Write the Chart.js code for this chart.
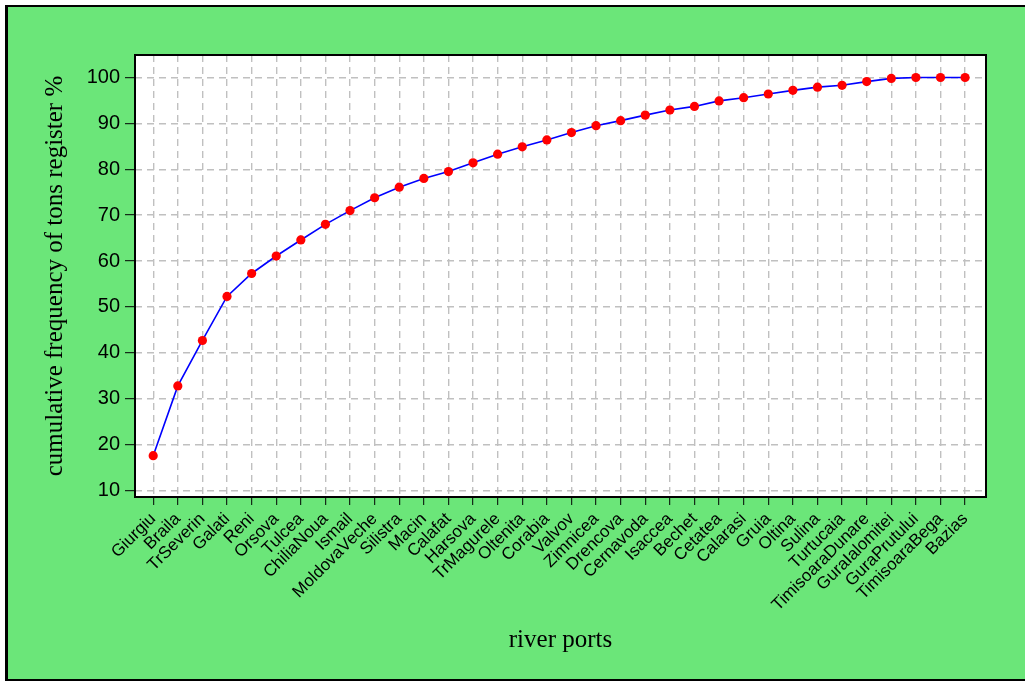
<!DOCTYPE html>
<html>
<head>
<meta charset="utf-8">
<title>River ports - cumulative frequency</title>
<script src="https://cdn.jsdelivr.net/npm/chart.js@4.4.1/dist/chart.umd.min.js"></script>
<style>
  html, body { margin:0; padding:0; overflow:hidden; background:#fff; }
  #frame {
    position:absolute; left:5px; top:5px; width:1030px; height:672px;
    background:#6be679;
    border-left:3px solid #000; border-top:2px solid #000; border-bottom:2px solid #000;
  }
  #wrap { position:absolute; left:0; top:0; width:1025px; height:682px; }
</style>
</head>
<body>
<div id="frame"></div>
<div id="wrap"><canvas id="paretoChart" width="1025" height="682"></canvas></div>

<script>
// river ports, ordered as on the x axis
const ports = ['Giurgiu', 'Braila', 'TrSeverin', 'Galati', 'Reni', 'Orsova', 'Tulcea', 'ChiliaNoua',
    'Ismail', 'MoldovaVeche', 'Silistra', 'Macin', 'Calafat', 'Harsova', 'TrMagurele', 'Oltenita',
    'Corabia', 'Valvov', 'Zimnicea', 'Drencova', 'Cernavoda', 'Isaccea', 'Bechet', 'Cetatea',
    'Calarasi', 'Gruia', 'Oltina', 'Sulina', 'Turtucaia', 'TimisoaraDunare', 'GuraIalomitei',
    'GuraPrutului', 'TimisoaraBega', 'Bazias'];

// cumulative % of registered tons
const cumulativePct = [17.6, 32.8, 42.7, 52.3, 57.3, 61.1, 64.6, 68.0, 71.0, 73.8, 76.1, 78.0,
    79.5, 81.4, 83.3, 84.9, 86.4, 88.0, 89.5, 90.6, 91.8, 92.9, 93.7, 94.9, 95.6, 96.4, 97.2,
    97.9, 98.3, 99.1, 99.8, 100, 100, 100];

// y grid every 5, labels every 10
const yTicks = [10, 15, 20, 25, 30, 35, 40, 45, 50, 55, 60, 65, 70, 75, 80, 85, 90, 95, 100];

const plotFrame = {
    id: 'plotFrame',
    beforeDraw: function(chart) {
        const a = chart.chartArea, ctx = chart.ctx;
        ctx.save();
        ctx.fillStyle = '#ffffff';
        ctx.fillRect(a.left, a.top, a.right - a.left, a.bottom - a.top);
        ctx.restore();
    },
    afterDraw: function(chart) {
        const a = chart.chartArea, ctx = chart.ctx;
        ctx.save();
        ctx.strokeStyle = '#000';
        ctx.lineWidth = 2;
        ctx.strokeRect(a.left, a.top, a.right - a.left, a.bottom - a.top);
        ctx.restore();
    }
};

new Chart(document.getElementById('paretoChart'), {
    type: 'line',
    data: {
        datasets: [{
            data: cumulativePct.map((v, i) => ({ x: i, y: v })),
            borderColor: '#0000ff',
            borderWidth: 1.6,
            tension: 0,
            pointRadius: 4.6,
            pointBackgroundColor: '#ff0000',
            pointBorderWidth: 0,
            clip: false
        }]
    },
    options: {
        responsive: false,
        animation: false,
        layout: { padding: { top: 55, right: 39, bottom: 6, left: 8 } },
        plugins: { legend: { display: false }, tooltip: { enabled: false } },
        scales: {
            x: {
                type: 'linear',
                min: -0.74,
                max: 33.85,
                afterBuildTicks: (s) => { s.ticks = ports.map((_, i) => ({ value: i })); },
                afterFit: (s) => { s.height = 179; },
                ticks: {
                    autoSkip: false,
                    maxRotation: 45,
                    minRotation: 45,
                    padding: 4,
                    color: '#000',
                    font: { family: 'Liberation Sans', size: 17 },
                    callback: (v) => ports[v] || ''
                },
                grid: {
                    color: '#c0c0c0',
                    lineWidth: 1.4,
                    tickColor: '#000',
                    tickLength: 8,
                    tickWidth: 1
                },
                border: { display: false, dash: [7, 5] },
                title: {
                    display: true,
                    text: 'river ports',
                    color: '#000',
                    font: { family: 'Liberation Serif', size: 25 },
                    padding: { top: 0, bottom: 21 }
                }
            },
            y: {
                min: 8.6,
                max: 104.9,
                afterBuildTicks: (s) => { s.ticks = yTicks.map(v => ({ value: v })); },
                afterFit: (s) => { s.width = 127; },
                ticks: {
                    padding: 5,
                    color: '#000',
                    font: { family: 'Liberation Sans', size: 20 },
                    callback: (v) => v % 10 === 0 ? String(v) : ''
                },
                grid: {
                    color: '#c0c0c0',
                    lineWidth: 1.4,
                    tickColor: (c) => (c.tick && c.tick.value % 10 === 0) ? '#000' : 'rgba(0,0,0,0)',
                    tickLength: 10,
                    tickWidth: 1
                },
                border: { display: false, dash: [7, 5] },
                title: {
                    display: true,
                    text: 'cumulative frequency of tons register %',
                    color: '#000',
                    font: { family: 'Liberation Serif', size: 25 },
                    padding: { top: 32, bottom: 0 }
                }
            }
        }
    },
    plugins: [plotFrame]
});
</script>
</body>
</html>
